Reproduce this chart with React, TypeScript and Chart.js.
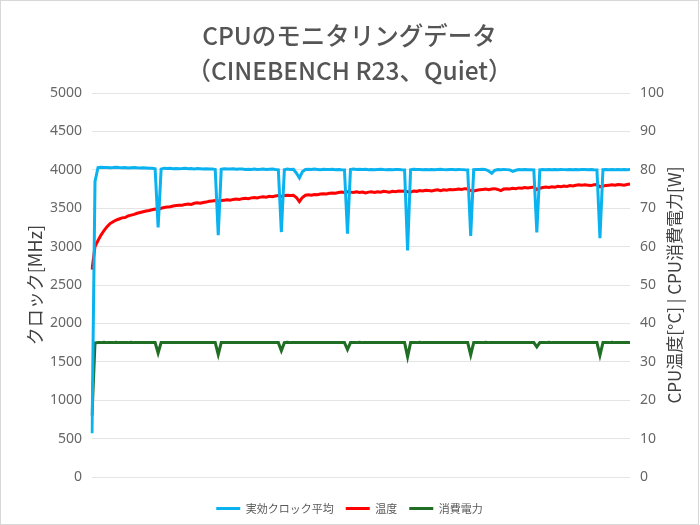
import { useEffect, useRef } from "react";
import { Chart, registerables } from "chart.js";

Chart.register(...registerables);

const titleLines = ["CPUのモニタリングデータ", "（CINEBENCH R23、Quiet）"];
const seriesNames = ["実効クロック平均", "温度", "消費電力"];
const leftAxisTitle = "クロック[MHz]";
const rightAxisTitle = "CPU温度[°C] | CPU消費電力[W]";

const clockMHz = [
  570, 3850, 4030, 4035, 4030, 4032, 4028, 4030, 4034, 4030,
  4027, 4030, 4025, 4028, 4030, 4026, 4024, 4028, 4025, 4020,
  4022, 4015, 3250, 4010, 4022, 4018, 4020, 4016, 4018, 4015,
  4017, 4020, 4014, 4016, 4012, 4018, 4014, 4010, 4015, 4012,
  4010, 4005, 3150, 4008, 4015, 4012, 4010, 4014, 4008, 4010,
  4012, 4006, 4008, 4004, 4010, 4006, 4008, 4012, 4005, 4008,
  4010, 4004, 4000, 3190, 4002, 4010, 4006, 4008, 3960, 3895,
  3975, 4005, 4008, 4004, 4010, 4006, 4002, 4008, 4005, 4004,
  4008, 4003, 4006, 4002, 4000, 3170, 4004, 4010, 4006, 4008,
  4004, 4007, 4003, 4006, 4002, 4005, 4008, 4004, 4002, 4006,
  4003, 4006, 4004, 4000, 3998, 2950, 4000, 4008, 4004, 4006,
  4002, 4005, 4003, 4006, 4001, 4004, 4007, 4003, 4000, 4004,
  4006, 4002, 4005, 4003, 4000, 3998, 3140, 4002, 4006, 4004,
  4008, 4003, 3985, 3955, 3995, 4004, 4002, 4006, 4003, 4000,
  3980, 3995, 4004, 4001, 4005, 4002, 4000, 3998, 3185, 4000,
  4006, 4003, 4005, 4001, 4004, 4002, 4006, 4003, 4000, 4004,
  4002, 4005, 4001, 4004, 4006, 4002, 4003, 4000, 3998, 3110,
  4002, 4006, 4003, 4005, 4001, 4004, 4002, 4005, 4003, 4004,
];

const tempC = [
  54, 60, 61.6, 63, 64.2, 65.2, 66, 66.5, 66.9, 67.2,
  67.5, 67.6, 68, 68.2, 68.4, 68.7, 68.9, 69.1, 69.3, 69.4,
  69.6, 69.8, 69.7, 70, 70.2, 70.3, 70.4, 70.6, 70.7, 70.8,
  70.8, 71, 71.1, 71.0, 71.3, 71.4, 71.3, 71.5, 71.6, 71.8,
  71.9, 72, 71.9, 72, 72.1, 72.2, 72.1, 72.3, 72.4, 72.3,
  72.5, 72.6, 72.5, 72.7, 72.8, 72.7, 72.9, 73, 72.9, 73.1,
  73.0, 73.2, 73.3, 73.1, 73.3, 73.4, 73.3, 73.4, 72.8, 71.7,
  72.8, 73.4, 73.5, 73.4, 73.6, 73.5, 73.7, 73.8, 73.7, 73.9,
  74, 73.9, 74.1, 74.2, 74.1, 74.3, 74.2, 74.1, 74.3, 74.1,
  74.2, 74.0, 74.2, 74.3, 74.1, 74.3, 74.2, 74.4, 74.3, 74.2,
  74.4, 74.3, 74.5, 74.4, 74.5, 74.3, 74.2, 74.5, 74.4, 74.6,
  74.5, 74.7, 74.6, 74.5, 74.7, 74.8, 74.6, 74.8, 74.7, 74.9,
  74.8, 74.9, 75.0, 74.9, 75.1, 75.0, 74.6, 74.5, 74.7, 74.8,
  74.9, 75.0, 74.8, 75.0, 75.1, 74.9, 74.6, 75.0, 75.1, 75.0,
  75.2, 75.1, 75.3, 75.2, 75.4, 75.3, 75.4, 75.5, 74.9, 75.2,
  75.4, 75.5, 75.4, 75.6, 75.5, 75.7, 75.6, 75.8, 75.7, 75.9,
  75.8, 76.0, 76.1, 76.0, 76.1, 76.0, 75.9, 76.1, 76.2, 75.6,
  75.8, 75.9, 76.0, 76.1, 76.0, 76.2, 76.1, 76.0, 76.2, 76.3,
];

const powerW = [
  16, 34.9, 35, 35, 35.1, 35, 35, 35, 35.1, 35,
  35, 35, 35, 35.1, 35, 35, 35, 35, 35, 35,
  35, 35, 32.3, 35, 35, 35, 35, 35, 35, 35,
  35, 35, 35, 35, 35, 35, 35, 35, 35, 35,
  35, 35, 31.9, 35, 35, 35, 35, 35, 35, 35,
  35, 35, 35, 35, 35, 35, 35, 35, 35, 35,
  35, 35, 35, 32.9, 35, 35.1, 35, 35, 35, 35,
  35, 35, 35, 35, 35, 35, 35, 35, 35, 35,
  35, 35, 35, 35, 35, 33.2, 35, 35, 35, 35.1,
  35, 35, 35, 35, 35, 35, 35, 35, 35, 35,
  35, 35, 35, 35, 35, 31.3, 35, 35, 35, 35.1,
  35, 35, 35, 35, 35, 35, 35, 35, 35, 35,
  35, 35, 35, 35, 35, 35, 31.8, 35, 35, 35,
  35, 35.1, 35, 35, 35, 35, 35, 35, 35, 35,
  35, 35, 35, 35, 35, 35, 35, 35, 33.9, 35,
  35, 35, 35.1, 35, 35, 35, 35, 35, 35, 35,
  35, 35, 35, 35, 35, 35, 35, 35, 35, 31.7,
  35, 35, 35, 35.1, 35, 35, 35, 35, 35, 35,
];

const sampleLabels = clockMHz.map((_, i) => String(i));

const BLUE = "#0ab2ef";
const RED = "#ff0000";
const GREEN = "#1f6e23";
const CJK = "'Noto Sans CJK JP', sans-serif";

const rightTitlePlugin = {
  id: "rightTitle",
  afterDraw(chart: any) {
    const { ctx, chartArea } = chart;
    ctx.save();
    ctx.font = `17px ${CJK}`;
    ctx.fillStyle = "#404040";
    ctx.textAlign = "center";
    ctx.textBaseline = "middle";
    ctx.translate(674, (chartArea.top + chartArea.bottom) / 2);
    ctx.rotate(-Math.PI / 2);
    ctx.fillText(rightAxisTitle, 0, 0);
    ctx.restore();
  },
};

export default function App() {
  const ref = useRef<HTMLCanvasElement | null>(null);

  useEffect(() => {
    document.body.style.margin = "0";
    const canvas = ref.current;
    if (!canvas) return;
    const tickFont = { family: "'Noto Sans', sans-serif", size: 14 };
    const chart = new Chart(canvas, {
      type: "line",
      data: {
        labels: sampleLabels,
        datasets: [
          {
            label: seriesNames[0],
            data: clockMHz,
            yAxisID: "y",
            borderColor: BLUE,
            backgroundColor: BLUE,
            borderWidth: 3,
            pointRadius: 0,
            tension: 0,
          },
          {
            label: seriesNames[1],
            data: tempC,
            yAxisID: "y1",
            borderColor: RED,
            backgroundColor: RED,
            borderWidth: 3,
            pointRadius: 0,
            tension: 0,
          },
          {
            label: seriesNames[2],
            data: powerW,
            yAxisID: "y1",
            borderColor: GREEN,
            backgroundColor: GREEN,
            borderWidth: 3,
            pointRadius: 0,
            tension: 0,
          },
        ],
      },
      options: {
        responsive: false,
        animation: false,
        events: [],
        layout: { padding: 0 },
        scales: {
          x: {
            display: true,
            ticks: { display: false },
            grid: { display: false, drawTicks: false },
            border: { display: false },
            afterFit: (s: any) => {
              s.height = 14;
            },
          },
          y: {
            position: "left",
            min: 0,
            max: 5000,
            ticks: {
              stepSize: 500,
              padding: 10,
              color: "#666",
              font: tickFont,
              callback: (v: any) => String(v),
            },
            grid: { color: "#e4e4e4", drawTicks: false },
            border: { display: false },
            title: {
              display: true,
              text: leftAxisTitle,
              color: "#404040",
              font: { family: CJK, size: 18 },
              padding: { top: 23, bottom: 0 },
            },
            afterFit: (s: any) => {
              s.width = 91;
            },
          },
          y1: {
            position: "right",
            min: 0,
            max: 100,
            ticks: {
              stepSize: 10,
              padding: 10,
              color: "#666",
              font: tickFont,
              callback: (v: any) => String(v),
            },
            grid: { drawOnChartArea: false, drawTicks: false },
            border: { display: false },
            title: { display: false },
            afterFit: (s: any) => {
              s.width = 68;
            },
          },
        },
        plugins: {
          title: {
            display: true,
            text: titleLines,
            color: "#555",
            font: {
              family: CJK,
              size: 24.5,
              weight: "500",
              lineHeight: 1.43,
            },
            padding: { top: 17, bottom: 5 },
          },
          legend: {
            position: "bottom",
            labels: {
              boxWidth: 24,
              boxHeight: 3,
              padding: 12,
              color: "#595959",
              font: { family: CJK, size: 11 },
              generateLabels: (c: any) =>
                Chart.defaults.plugins.legend.labels
                  .generateLabels(c)
                  .map((l: any) => ({ ...l, lineWidth: 0 })),
            },
          },
          tooltip: { enabled: false },
        },
      } as any,
      plugins: [rightTitlePlugin],
    });
    return () => chart.destroy();
  }, []);

  return (
    <div
      style={{
        position: "absolute",
        left: 0,
        top: 0,
        width: 699,
        height: 525,
        border: "1px solid #d8d8d8",
        boxSizing: "border-box",
        background: "#fff",
      }}
    >
      <canvas ref={ref} width={697} height={523} style={{ display: "block" }} />
    </div>
  );
}
